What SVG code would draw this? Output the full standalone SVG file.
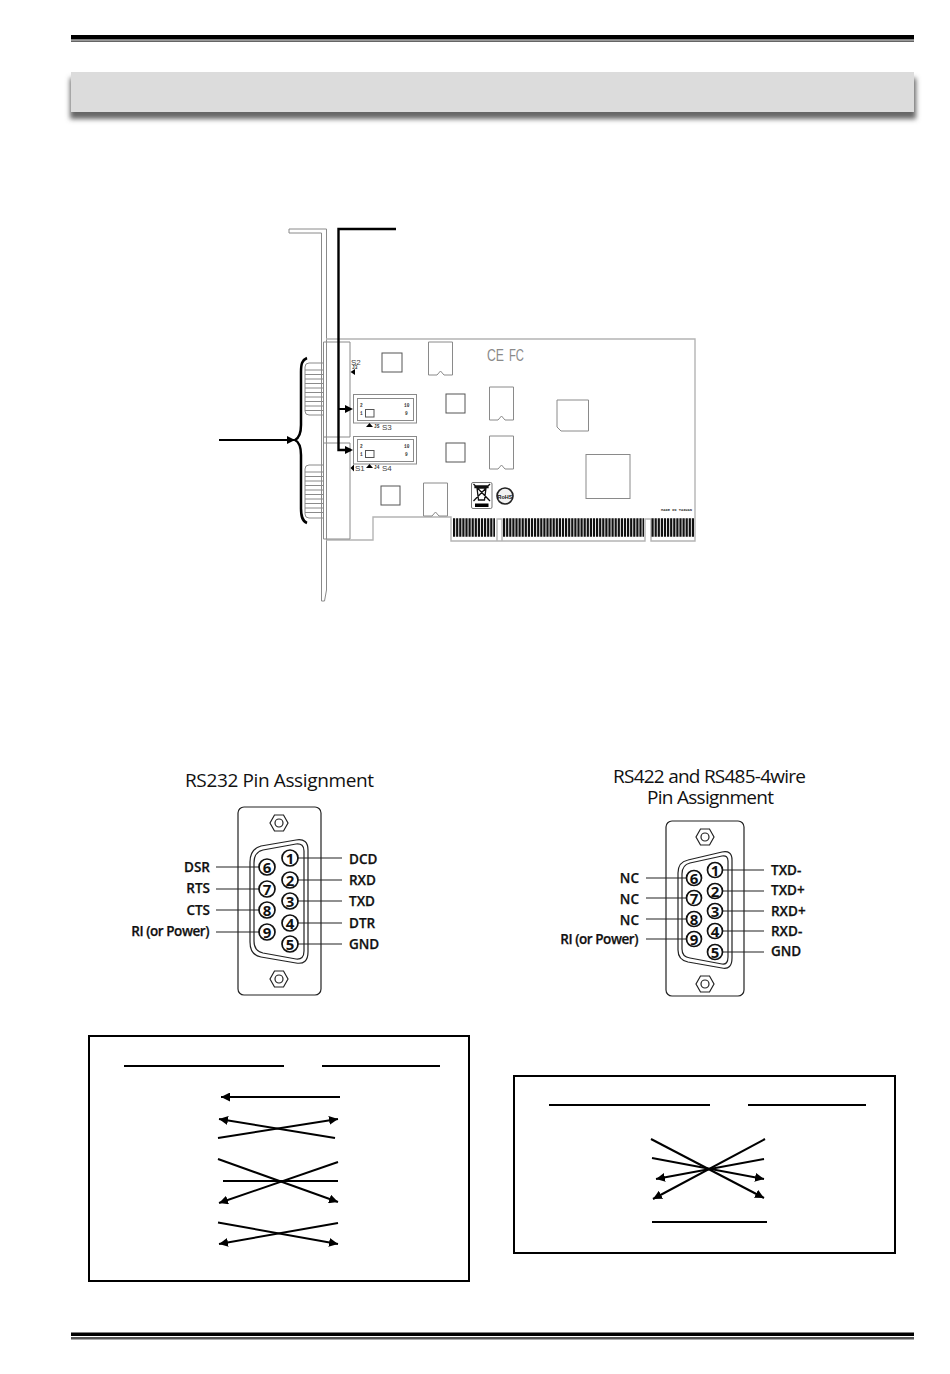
<svg xmlns="http://www.w3.org/2000/svg" width="950" height="1374" viewBox="0 0 950 1374">
<style>
.o{fill:none;stroke:#8a8a8a;stroke-width:1}
.c{fill:none;stroke:#b4b4b4;stroke-width:1.4}
.d{fill:none;stroke:#555;stroke-width:1}
.k{fill:none;stroke:#000;stroke-width:2}
.a{marker-end:url(#ah)}
.t{font-family:"Open Sans","Liberation Sans",sans-serif;fill:#111}
.h{font-size:19px}
.l{font-size:13.5px;font-weight:600;fill:#111;stroke:#111;stroke-width:.25}
.n{font-size:15px;font-weight:700;text-anchor:middle;fill:#111}
.p{fill:#fff;stroke:#111;stroke-width:1.7}
.w{stroke:#222;stroke-width:1.2;fill:none}
.s{font-family:"Liberation Sans",sans-serif;font-size:8px;fill:#444}
.m{font-family:"Liberation Mono",monospace;font-size:4.5px;font-weight:700;fill:#333}
.g{font-family:"Liberation Sans",sans-serif;font-size:17px;fill:#8a8a8a}
</style>
<defs>
<marker id="ah" markerUnits="userSpaceOnUse" markerWidth="11" markerHeight="9" refX="9" refY="4.500" orient="auto"><path d="M0 0L9 4.500L0 9Z" fill="#000"/></marker>
<filter id="sh" x="-3%" y="-30%" width="106%" height="170%"><feGaussianBlur stdDeviation="2.500"/></filter>
</defs>

<g id="page-rules">
<rect x="71" y="35" width="843" height="4.500" fill="#000"/>
<rect x="71" y="40.600" width="843" height="1" fill="#000"/>
<rect x="71" y="1332.500" width="843" height="3.500" fill="#000"/>
<rect x="71" y="1337" width="843" height="2.500" fill="#555"/>
</g>
<g id="banner">
<rect x="70" y="78" width="846" height="41" fill="#666" filter="url(#sh)"/>
<rect x="71" y="72" width="843" height="40" fill="#dcdcdc"/>
</g>

<g id="pci-bracket">
<path class="o" d="M289 229H326.500V590L324.500 601H321.500V233H289Z"/>
</g>
<g id="pci-card">
<path class="c" d="M326 339H695V541H651V519H645V541H497V519H502V541H451V517H373V540H326"/>
<path class="o" d="M350 342H323.500V539H350V443H323.500M323.500 437H350V342"/>
<g id="chips">
<rect class="d" x="382" y="353" width="20" height="19"/>
<rect class="d" x="446" y="394" width="19" height="19"/>
<rect class="d" x="446" y="443" width="19" height="19"/>
<rect class="d" x="381" y="486" width="19" height="19"/>
<path class="o" d="M557 400H588.500V431H561L557 427Z"/>
<rect class="o" x="586" y="454.500" width="44" height="44"/>
</g>
<g id="notched">
<path class="o" d="M428.500 342H452.500V375H444L440.500 371L437 375H428.500Z"/>
<path class="o" d="M489.500 387H513.500V420H505L501.500 416L498 420H489.500Z"/>
<path class="o" d="M489.500 436H513.500V469H505L501.500 465L498 469H489.500Z"/>
<path class="o" d="M423.500 483H447.500V516H439L435.500 512L432 516H423.500Z"/>
</g>
<g id="db9-ports">
<path class="o" d="M323 363H309Q305 363 305 367V411Q305 415 309 415H323"/>
<path class="o" d="M305 370H323M305 374.500H323M305 379H323M305 383.500H323M305 388H323M305 392.500H323M305 397H323M305 401.500H323M305 406H323M305 410.500H323"/>
<path class="o" d="M323 465H309Q305 465 305 469V514Q305 518 309 518H323"/>
<path class="o" d="M305 472H323M305 476.500H323M305 481H323M305 485.500H323M305 490H323M305 494.500H323M305 499H323M305 503.500H323M305 508H323M305 512.500H323"/>
</g>
<g id="header-s3">
<rect class="o" x="353.500" y="394.500" width="63" height="28.500"/>
<rect class="o" x="357.500" y="398.500" width="56" height="22"/>
<rect class="d" x="365.500" y="409.500" width="8.500" height="7.500"/>
<text class="m" x="360" y="407">2</text><text class="m" x="404" y="407">10</text>
<text class="m" x="360" y="415">1</text><text class="m" x="405" y="415">9</text>
<path d="M366 427L369.500 423L373 427Z" fill="#000"/>
<text class="m" x="374" y="428">JS</text>
<text class="s" x="382" y="430">S3</text>
</g>
<g id="header-s4">
<rect class="o" x="353.500" y="436.500" width="63" height="27.500"/>
<rect class="o" x="357.500" y="439.500" width="56" height="22"/>
<rect class="d" x="365.500" y="450.500" width="8.500" height="7"/>
<text class="m" x="360" y="448">2</text><text class="m" x="404" y="448">10</text>
<text class="m" x="360" y="456">1</text><text class="m" x="405" y="456">9</text>
<path d="M366 468L369.500 464L373 468Z" fill="#000"/>
<text class="m" x="374" y="469">J4</text>
<text class="s" x="382" y="471">S4</text>
</g>
<g id="marks">
<text class="s" x="351" y="365">S2</text>
<text class="m" x="352" y="369">J3</text>
<path d="M350.500 372L355 369V375Z" fill="#000"/>
<path d="M350.500 468L354 464.500V471.500Z" fill="#000"/>
<text class="s" x="355" y="471">S1</text>
<text class="m" x="661" y="511" textLength="31" lengthAdjust="spacingAndGlyphs" style="font-size:4px">MADE IN TAIWAN</text>
</g>
<g id="logos">
<text class="g" x="487" y="361" textLength="17" lengthAdjust="spacingAndGlyphs">CE</text>
<text class="g" x="509" y="361" textLength="15" lengthAdjust="spacingAndGlyphs">FC</text>
<rect x="471.500" y="482.500" width="20.500" height="26" rx="1.500" fill="none" stroke="#777"/>
<path d="M477 488H486L484.500 500H478.500ZM475 486H488V487.500H475ZM473.500 484L490 501M490 484L473.500 501" fill="none" stroke="#111" stroke-width="1.300"/>
<rect x="475" y="503.500" width="13.500" height="3.500" fill="#000"/>
<circle cx="505" cy="496" r="8" fill="#f2f2f2" stroke="#222" stroke-width="1.600"/>
<text x="505" y="498.500" text-anchor="middle" style="font-family:'Liberation Sans',sans-serif;font-size:5.500px;font-weight:700;fill:#111">RoHS</text>
</g>
<g id="gold-fingers" stroke="#111" stroke-width="18.500" stroke-dasharray="2.200 .9" fill="none">
<path d="M453 527.500H495"/>
<path d="M503 527.500H644"/>
<path d="M651.500 527.500H694"/>
</g>
</g>

<g id="callouts">
<path d="M396 229H338.500V450H351" fill="none" stroke="#000" stroke-width="2.400"/>
<path d="M339 409H351" fill="none" stroke="#000" stroke-width="2"/>
<path d="M345 405L353 409L345 413Z"/><path d="M345 446L353 450L345 454Z"/>
<path d="M219 440H294" stroke="#000" stroke-width="2"/>
<path d="M287 436L295 440L287 444Z"/>
<path d="M307 358C302 360 301 364 301 372V425C301 434 299 438 295 440C299 442 301 446 301 455V508C301 516 302 521 307 523" fill="none" stroke="#000" stroke-width="2.500"/>
</g>

<g id="rs232">
<text class="t h" x="185" y="787" textLength="189">RS232 Pin Assignment</text>
<g id="rs232-plate">
<rect x="238" y="807" width="83" height="188" rx="6" fill="#fff" stroke="#222" stroke-width="1.200"/>
<path class="w" d="M274.500 815H283.500L288 823L283.500 831H274.500L270 823Z"/><circle class="w" cx="279" cy="823" r="4"/>
<path class="w" d="M274.500 971H283.500L288 979L283.500 987H274.500L270 979Z"/><circle class="w" cx="279" cy="979" r="4"/>
<path class="w" d="M250 862Q250 849 261 846L296 840Q308 838 308 850V952Q308 965 296 963L261 957Q250 955 250 942Z"/>
<path class="w" d="M254 863Q254 852 263 850L296 844Q304 843 304 851V951Q304 960 296 959L263 953Q254 951 254 941Z"/>
</g>
<g id="rs232-wires" class="w">
<path d="M216 867H259M216 889H259M216 910H259M216 932H259M298 858H342M298 880H342M298 901H342M298 923H342M298 944H342"/>
</g>
<g id="rs232-pins">
<circle class="p" cx="290" cy="858" r="8"/><circle class="p" cx="290" cy="880" r="8"/><circle class="p" cx="290" cy="901" r="8"/><circle class="p" cx="290" cy="923" r="8"/><circle class="p" cx="290" cy="944" r="8"/>
<circle class="p" cx="267" cy="867" r="8"/><circle class="p" cx="267" cy="889" r="8"/><circle class="p" cx="267" cy="910" r="8"/><circle class="p" cx="267" cy="932" r="8"/>
<text class="t n" x="290" y="863.500">1</text><text class="t n" x="290" y="885.500">2</text><text class="t n" x="290" y="906.500">3</text><text class="t n" x="290" y="928.500">4</text><text class="t n" x="290" y="949.500">5</text>
<text class="t n" x="267" y="872.500">6</text><text class="t n" x="267" y="894.500">7</text><text class="t n" x="267" y="915.500">8</text><text class="t n" x="267" y="937.500">9</text>
</g>
<g id="rs232-labels" text-anchor="end">
<text class="t l" x="210" y="872">DSR</text><text class="t l" x="210" y="893">RTS</text><text class="t l" x="210" y="915">CTS</text><text class="t l" x="209" y="936" style="letter-spacing:-.45px">RI (or Power)</text>
</g>
<g id="rs232-labels-r">
<text class="t l" x="349" y="864">DCD</text><text class="t l" x="349" y="885">RXD</text><text class="t l" x="349" y="906">TXD</text><text class="t l" x="349" y="928">DTR</text><text class="t l" x="349" y="949">GND</text>
</g>
</g>

<g id="rs422">
<text class="t h" x="613" y="783" textLength="193">RS422 and RS485-4wire</text>
<text class="t h" x="647" y="804" textLength="127">Pin Assignment</text>
<g id="rs422-plate">
<rect x="666" y="821" width="78" height="175" rx="6" fill="#fff" stroke="#222" stroke-width="1.200"/>
<path class="w" d="M700.500 829H709.500L714 837L709.500 845H700.500L696 837Z"/><circle class="w" cx="705" cy="837" r="4"/>
<path class="w" d="M700.500 976H709.500L714 984L709.500 992H700.500L696 984Z"/><circle class="w" cx="705" cy="984" r="4"/>
<path class="w" d="M678 873Q678 862 688 860L722 852Q732 850 732 860V958Q732 970 722 968L688 962Q678 960 678 950Z"/>
<path class="w" d="M682 874Q682 865 690 863L722 856Q728 855 728 861V957Q728 965 722 964L690 958Q682 957 682 949Z"/>
</g>
<g id="rs422-wires" class="w">
<path d="M646 878H686M646 898H686M646 919H686M646 939H686M723 870H764M723 891H764M723 911H764M723 931H764M723 952H764"/>
</g>
<g id="rs422-pins">
<circle class="p" cx="715" cy="870" r="7.500"/><circle class="p" cx="715" cy="891" r="7.500"/><circle class="p" cx="715" cy="911" r="7.500"/><circle class="p" cx="715" cy="931" r="7.500"/><circle class="p" cx="715" cy="952" r="7.500"/>
<circle class="p" cx="694" cy="878" r="7.500"/><circle class="p" cx="694" cy="898" r="7.500"/><circle class="p" cx="694" cy="919" r="7.500"/><circle class="p" cx="694" cy="939" r="7.500"/>
<text class="t n" x="715" y="875.500">1</text><text class="t n" x="715" y="896.500">2</text><text class="t n" x="715" y="916.500">3</text><text class="t n" x="715" y="936.500">4</text><text class="t n" x="715" y="957.500">5</text>
<text class="t n" x="694" y="883.500">6</text><text class="t n" x="694" y="903.500">7</text><text class="t n" x="694" y="924.500">8</text><text class="t n" x="694" y="944.500">9</text>
</g>
<g id="rs422-labels" text-anchor="end">
<text class="t l" x="639" y="883">NC</text><text class="t l" x="639" y="904">NC</text><text class="t l" x="639" y="925">NC</text><text class="t l" x="638" y="944" style="letter-spacing:-.45px">RI (or Power)</text>
</g>
<g id="rs422-labels-r">
<text class="t l" x="771" y="875">TXD-</text><text class="t l" x="771" y="895">TXD+</text><text class="t l" x="771" y="916">RXD+</text><text class="t l" x="771" y="936">RXD-</text><text class="t l" x="771" y="956">GND</text>
</g>
</g>

<g id="table-left">
<rect x="89" y="1036" width="380" height="245" fill="none" stroke="#000" stroke-width="2"/>
<path class="k" d="M124 1066H284M322 1066H440"/>
</g>
<g id="table-right">
<rect x="514" y="1076" width="381" height="177" fill="none" stroke="#000" stroke-width="2"/>
<path class="k" d="M549 1105H710M748 1105H866"/>
</g>
<g id="connectors">
<path class="k a" d="M340 1097H221"/>
<path class="k a" d="M335 1138L219 1119"/>
<path class="k a" d="M218 1138L338 1119"/>
<path class="k a" d="M218 1159L338 1202"/>
<path class="k a" d="M338 1162L219 1203"/>
<path class="k" d="M223 1181H338"/>
<path class="k a" d="M218 1222.500L338 1244"/>
<path class="k a" d="M338 1223L219 1244"/>
<path class="k a" d="M651 1139L764 1198"/>
<path class="k a" d="M765 1139L653 1199"/>
<path class="k a" d="M652 1158L764 1179"/>
<path class="k a" d="M764 1159L656 1179"/>
<path class="k" d="M652 1222H767"/>
</g>
</svg>
